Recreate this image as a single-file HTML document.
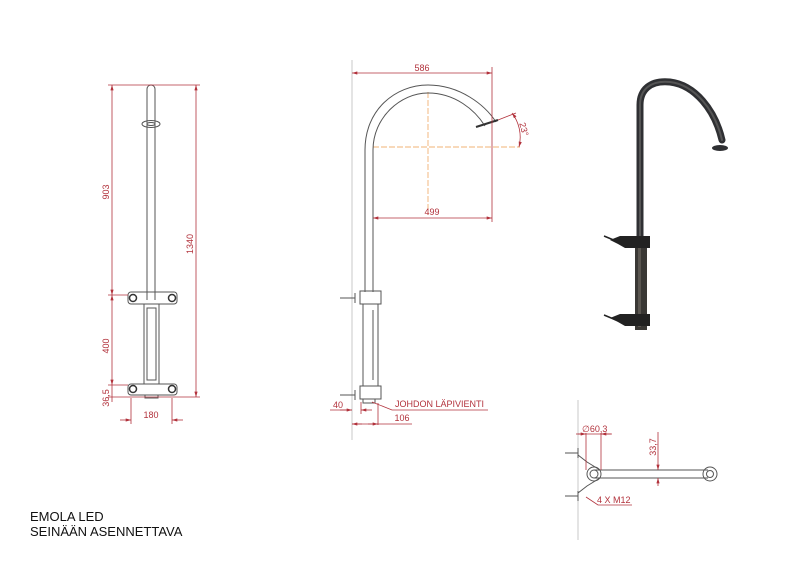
<!DOCTYPE html>
<html><head><meta charset="utf-8"><style>
html,body{margin:0;padding:0;background:#fff;}
svg{display:block;font-family:"Liberation Sans",sans-serif;}
</style></head><body>
<svg width="800" height="566" viewBox="0 0 800 566" xmlns="http://www.w3.org/2000/svg">
<defs>
<marker id="a" viewBox="0 0 10 6" refX="10" refY="3" markerWidth="7" markerHeight="4" orient="auto-start-reverse"><path d="M0,0L10,3L0,6z" fill="#b2323c"/></marker>
</defs>
<g fill="none" stroke="#555" stroke-width="1">
<path d="M147,300V89a4,4 0 0 1 8,0V300"/>
<ellipse cx="151" cy="124" rx="9" ry="3.5"/>
<ellipse cx="151" cy="124" rx="4" ry="1.5"/>
<rect x="128" y="292" width="49" height="12" rx="3"/>
<circle cx="133" cy="298" r="3.5" stroke="#333" stroke-width="1.5"/>
<circle cx="172" cy="298" r="3.5" stroke="#333" stroke-width="1.5"/>
<rect x="144" y="304" width="15" height="80"/>
<rect x="147" y="308" width="9" height="72"/>
<rect x="128" y="384" width="49" height="11" rx="3"/>
<circle cx="133" cy="389" r="3.5" stroke="#333" stroke-width="1.5"/>
<circle cx="172" cy="389" r="3.5" stroke="#333" stroke-width="1.5"/>
<rect x="145" y="395" width="13" height="3"/>
</g>
<g stroke="#b2323c" stroke-width="0.8" fill="none">
<line x1="108" y1="85" x2="200" y2="85"/>
<line x1="112" y1="85" x2="112" y2="295" marker-start="url(#a)" marker-end="url(#a)"/>
<line x1="112" y1="295" x2="112" y2="385" marker-start="url(#a)" marker-end="url(#a)"/>
<line x1="112" y1="385" x2="112" y2="402"/>
<line x1="108" y1="295" x2="128" y2="295"/>
<line x1="108" y1="385" x2="128" y2="385"/>
<line x1="108" y1="397" x2="200" y2="397"/>
<line x1="196" y1="85" x2="196" y2="397" marker-start="url(#a)" marker-end="url(#a)"/>
<line x1="131" y1="398" x2="131" y2="424"/>
<line x1="172" y1="398" x2="172" y2="424"/>
<line x1="120" y1="420" x2="131" y2="420" marker-end="url(#a)"/>
<line x1="183" y1="420" x2="172" y2="420" marker-end="url(#a)"/>
</g>
<g fill="#b2323c" font-size="9">
<text transform="translate(109,192) rotate(-90)" text-anchor="middle">903</text>
<text transform="translate(109,346) rotate(-90)" text-anchor="middle">400</text>
<text transform="translate(109,398) rotate(-90)" text-anchor="middle">36,5</text>
<text transform="translate(193,244) rotate(-90)" text-anchor="middle">1340</text>
<text x="151" y="418" text-anchor="middle">180</text>
</g>
<line x1="352" y1="60" x2="352" y2="440" stroke="#bbb" stroke-width="0.8"/>
<g stroke="#ee9a4a" stroke-width="0.7" stroke-dasharray="6,2">
<line x1="428" y1="92" x2="428" y2="215"/>
<line x1="373" y1="147" x2="520" y2="147"/>
</g>
<g fill="none" stroke="#555" stroke-width="1">
<path d="M365,292V150C365,110 395,85 428,85C460,85 485,105 496,122"/>
<path d="M373,292V150C373,118 400,93 428,93C455,93 475,110 485,126"/>
<line x1="476" y1="127" x2="498" y2="120" stroke="#333" stroke-width="2"/>
<rect x="360" y="291" width="21" height="13"/>
<rect x="363" y="304" width="15" height="82"/>
<line x1="373" y1="310" x2="373" y2="380"/>
<rect x="360" y="386" width="21" height="13"/>
<rect x="363" y="399" width="12" height="4"/>
<path d="M340,298H355M355,293V303M340,395H355M355,390V400"/>
</g>
<g stroke="#b2323c" stroke-width="0.8" fill="none">
<line x1="352" y1="73" x2="492" y2="73" marker-start="url(#a)" marker-end="url(#a)"/>
<line x1="492" y1="67" x2="492" y2="222"/>
<line x1="373" y1="218" x2="492" y2="218" marker-start="url(#a)" marker-end="url(#a)"/>
<line x1="498" y1="120" x2="516" y2="113"/>
<path d="M512,113 A40,40 0 0 1 519,147" marker-start="url(#a)" marker-end="url(#a)"/>
<line x1="361" y1="402" x2="361" y2="414"/>
<line x1="378" y1="403" x2="378" y2="425"/>
<line x1="352" y1="410" x2="330" y2="410"/>
<line x1="340" y1="410" x2="352" y2="410" marker-end="url(#a)"/>
<line x1="372" y1="410" x2="361" y2="410" marker-end="url(#a)"/>
<line x1="352" y1="424" x2="412" y2="424"/>
<line x1="362" y1="424" x2="352" y2="424" marker-end="url(#a)"/>
<line x1="368" y1="424" x2="378" y2="424" marker-end="url(#a)"/>
<path d="M372,402L392,410H488"/>
</g>
<g fill="#b2323c" font-size="9">
<text x="422" y="71" text-anchor="middle">586</text>
<text x="432" y="215" text-anchor="middle">499</text>
<text transform="translate(521,130) rotate(75)" text-anchor="middle">23°</text>
<text x="338" y="408" text-anchor="middle">40</text>
<text x="402" y="421" text-anchor="middle">106</text>
<text x="395" y="407">JOHDON LÄPIVIENTI</text>
</g>
<g fill="none" stroke="#2f3033" stroke-linecap="round">
<path d="M640,240V105C640,90 650,80 670,82C695,85 715,110 722,140" stroke-width="7"/>
<path d="M640,240V105C640,90 650,80 670,82C695,85 715,110 722,140" stroke="#555" stroke-width="2"/>
</g>
<ellipse cx="720" cy="148" rx="8" ry="3" fill="#2f3033"/>
<rect x="635" y="240" width="12" height="90" fill="#3a3835"/>
<rect x="638" y="242" width="3" height="85" fill="#5a5650"/>
<path d="M610,240L620,236H650V248H625L618,244z" fill="#222"/>
<path d="M610,318L620,314H650V326H625L618,322z" fill="#222"/>
<line x1="604" y1="236" x2="616" y2="241" stroke="#222" stroke-width="1.5"/>
<line x1="604" y1="315" x2="616" y2="320" stroke="#222" stroke-width="1.5"/>
<line x1="578" y1="400" x2="578" y2="540" stroke="#bbb" stroke-width="0.8"/>
<g fill="none" stroke="#555" stroke-width="1">
<path d="M594,470H708M594,478H708"/>
<circle cx="594" cy="474" r="7"/><circle cx="594" cy="474" r="4"/>
<circle cx="710" cy="474" r="7"/><circle cx="710" cy="474" r="3.5"/>
<path d="M578,455L587,462L600,470M578,493L587,486L600,478"/>
<path d="M565,453H578M578,448V458M565,496H578M578,491V501"/>
</g>
<g stroke="#b2323c" stroke-width="0.8" fill="none">
<line x1="586" y1="433" x2="586" y2="470"/>
<line x1="601" y1="433" x2="601" y2="470"/>
<line x1="578" y1="434" x2="612" y2="434"/>
<line x1="576" y1="434" x2="586" y2="434" marker-end="url(#a)"/>
<line x1="611" y1="434" x2="601" y2="434" marker-end="url(#a)"/>
<line x1="658" y1="432" x2="658" y2="470" marker-end="url(#a)"/>
<line x1="658" y1="486" x2="658" y2="478" marker-end="url(#a)"/>
<path d="M586,497L598,505H632"/>
</g>
<g fill="#b2323c" font-size="9">
<text x="582" y="432">∅60,3</text>
<text transform="translate(656,447) rotate(-90)" text-anchor="middle">33,7</text>
<text x="597" y="503">4 X M12</text>
</g>
<g fill="#111" font-size="13">
<text x="30" y="521">EMOLA LED</text>
<text x="30" y="536">SEINÄÄN ASENNETTAVA</text>
</g>
</svg>
</body></html>
